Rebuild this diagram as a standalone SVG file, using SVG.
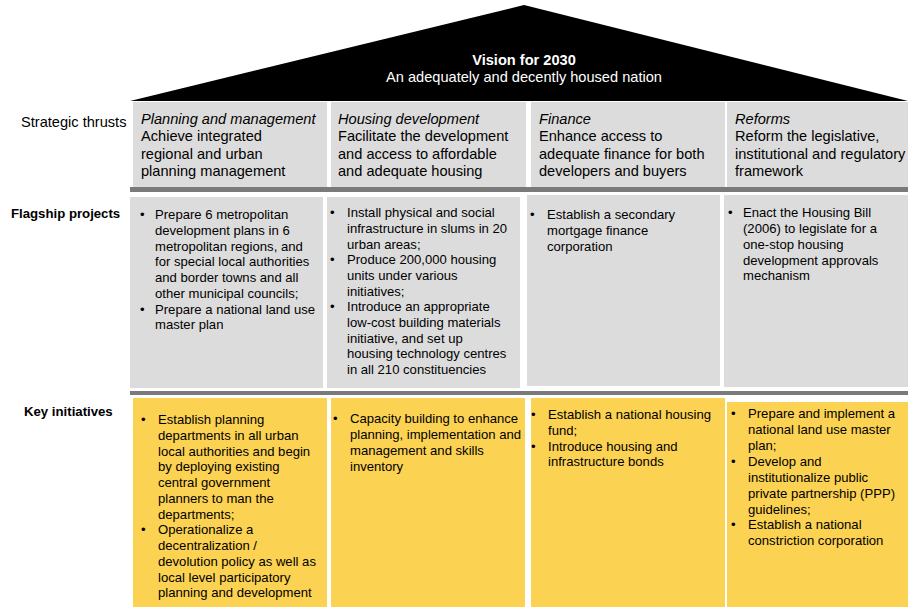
<svg xmlns="http://www.w3.org/2000/svg" width="908" height="607" viewBox="0 0 908 607">
<style>
text{font-family:"Liberation Sans",Arial,sans-serif;fill:#000}
.t{font-size:14.6px}
.ti{font-size:14.6px;font-style:italic}
.b{font-size:13.1px}
.lbl{font-size:13.2px;font-weight:bold}
.g{fill:#dcdcdc}
.y{fill:#fcd252}
.bar{fill:#7a7a7a}
</style>
<rect width="908" height="607" fill="#fff"/>
<g id="roof">
<polygon points="130,101 524,5 908,101" fill="#000"/>
<text x="524" y="65" text-anchor="middle" style="font-size:14.6px;font-weight:bold;fill:#fff">Vision for 2030</text>
<text x="524" y="82" text-anchor="middle" style="font-size:14.6px;fill:#fff">An adequately and decently housed nation</text>
</g>
<g id="row-labels">
<text class="t" x="21" y="127">Strategic thrusts</text>
<text class="lbl" x="11" y="218">Flagship projects</text>
<text class="lbl" x="24" y="416">Key initiatives</text>
</g>
<g id="bars">
<rect class="bar" x="130" y="187" width="778" height="5"/>
<rect class="bar" x="130" y="391" width="778" height="4"/>
</g>
<g id="thrust-planning">
<rect class="g" x="133" y="102" width="194" height="85"/>
<text class="ti" x="141" y="124">Planning and management</text>
<text class="t" x="141" y="141">Achieve integrated</text>
<text class="t" x="141" y="158.5">regional and urban</text>
<text class="t" x="141" y="176">planning management</text>
</g>
<g id="thrust-housing">
<rect class="g" x="331" y="102" width="195" height="85"/>
<text class="ti" x="338" y="124">Housing development</text>
<text class="t" x="338" y="141">Facilitate the development</text>
<text class="t" x="338" y="158.5">and access to affordable</text>
<text class="t" x="338" y="176">and adequate housing</text>
</g>
<g id="thrust-finance">
<rect class="g" x="531" y="102" width="194" height="85"/>
<text class="ti" x="539" y="124">Finance</text>
<text class="t" x="539" y="141">Enhance access to</text>
<text class="t" x="539" y="158.5">adequate finance for both</text>
<text class="t" x="539" y="176">developers and buyers</text>
</g>
<g id="thrust-reforms">
<rect class="g" x="727" y="102" width="181" height="85"/>
<text class="ti" x="735" y="124">Reforms</text>
<text class="t" x="735" y="141">Reform the legislative,</text>
<text class="t" x="735" y="158.5">institutional and regulatory</text>
<text class="t" x="735" y="176">framework</text>
</g>
<g id="flagship-planning">
<rect class="g" x="130" y="197" width="193" height="191"/>
<text class="b" x="140" y="219">•</text>
<text class="b" x="155" y="219">Prepare 6 metropolitan</text>
<text class="b" x="155" y="235">development plans in 6</text>
<text class="b" x="155" y="250.5">metropolitan regions, and</text>
<text class="b" x="155" y="266">for special local authorities</text>
<text class="b" x="155" y="282">and border towns and all</text>
<text class="b" x="155" y="298">other municipal councils;</text>
<text class="b" x="140" y="313.5">•</text>
<text class="b" x="155" y="313.5">Prepare a national land use</text>
<text class="b" x="155" y="329">master plan</text>
</g>
<g id="flagship-housing">
<rect class="g" x="327" y="197" width="193" height="191"/>
<text class="b" x="330" y="217">•</text>
<text class="b" x="347" y="217">Install physical and social</text>
<text class="b" x="347" y="233">infrastructure in slums in 20</text>
<text class="b" x="347" y="248.5">urban areas;</text>
<text class="b" x="330" y="264">•</text>
<text class="b" x="347" y="264">Produce 200,000 housing</text>
<text class="b" x="347" y="280">units under various</text>
<text class="b" x="347" y="295.5">initiatives;</text>
<text class="b" x="330" y="311">•</text>
<text class="b" x="347" y="311">Introduce an appropriate</text>
<text class="b" x="347" y="327">low-cost building materials</text>
<text class="b" x="347" y="342.5">initiative, and set up</text>
<text class="b" x="347" y="358">housing technology centres</text>
<text class="b" x="347" y="374">in all 210 constituencies</text>
</g>
<g id="flagship-finance">
<rect class="g" x="527" y="195" width="193" height="191"/>
<text class="b" x="530" y="219">•</text>
<text class="b" x="547" y="219">Establish a secondary</text>
<text class="b" x="547" y="235">mortgage finance</text>
<text class="b" x="547" y="250.5">corporation</text>
</g>
<g id="flagship-reforms">
<rect class="g" x="724" y="195" width="184" height="192"/>
<text class="b" x="728" y="217">•</text>
<text class="b" x="743" y="217">Enact the Housing Bill</text>
<text class="b" x="743" y="233">(2006) to legislate for a</text>
<text class="b" x="743" y="249">one-stop housing</text>
<text class="b" x="743" y="264.5">development approvals</text>
<text class="b" x="743" y="280">mechanism</text>
</g>
<g id="key-planning">
<rect class="y" x="133" y="398" width="194" height="209"/>
<text class="b" x="141" y="424">•</text>
<text class="b" x="158" y="424">Establish planning</text>
<text class="b" x="158" y="440">departments in all urban</text>
<text class="b" x="158" y="455.5">local authorities and begin</text>
<text class="b" x="158" y="471">by deploying existing</text>
<text class="b" x="158" y="487">central government</text>
<text class="b" x="158" y="503">planners to man the</text>
<text class="b" x="158" y="518.5">departments;</text>
<text class="b" x="141" y="534">•</text>
<text class="b" x="158" y="534">Operationalize a</text>
<text class="b" x="158" y="550">decentralization /</text>
<text class="b" x="158" y="566">devolution policy as well as</text>
<text class="b" x="158" y="581.5">local level participatory</text>
<text class="b" x="158" y="597">planning and development</text>
</g>
<g id="key-housing">
<rect class="y" x="331" y="398" width="194" height="209"/>
<text class="b" x="333" y="423">•</text>
<text class="b" x="350" y="423">Capacity building to enhance</text>
<text class="b" x="350" y="439">planning, implementation and</text>
<text class="b" x="350" y="455">management and skills</text>
<text class="b" x="350" y="471">inventory</text>
</g>
<g id="key-finance">
<rect class="y" x="531" y="398" width="194" height="209"/>
<text class="b" x="531" y="419">•</text>
<text class="b" x="548" y="419">Establish a national housing</text>
<text class="b" x="548" y="435">fund;</text>
<text class="b" x="531" y="451">•</text>
<text class="b" x="548" y="451">Introduce housing and</text>
<text class="b" x="548" y="466">infrastructure bonds</text>
</g>
<g id="key-reforms">
<rect class="y" x="727" y="402" width="181" height="205"/>
<text class="b" x="731" y="418">•</text>
<text class="b" x="748" y="418">Prepare and implement a</text>
<text class="b" x="748" y="434">national land use master</text>
<text class="b" x="748" y="450">plan;</text>
<text class="b" x="731" y="466">•</text>
<text class="b" x="748" y="466">Develop and</text>
<text class="b" x="748" y="482">institutionalize public</text>
<text class="b" x="748" y="498">private partnership (PPP)</text>
<text class="b" x="748" y="514">guidelines;</text>
<text class="b" x="731" y="529">•</text>
<text class="b" x="748" y="529">Establish a national</text>
<text class="b" x="748" y="545">constriction corporation</text>
</g>
</svg>
